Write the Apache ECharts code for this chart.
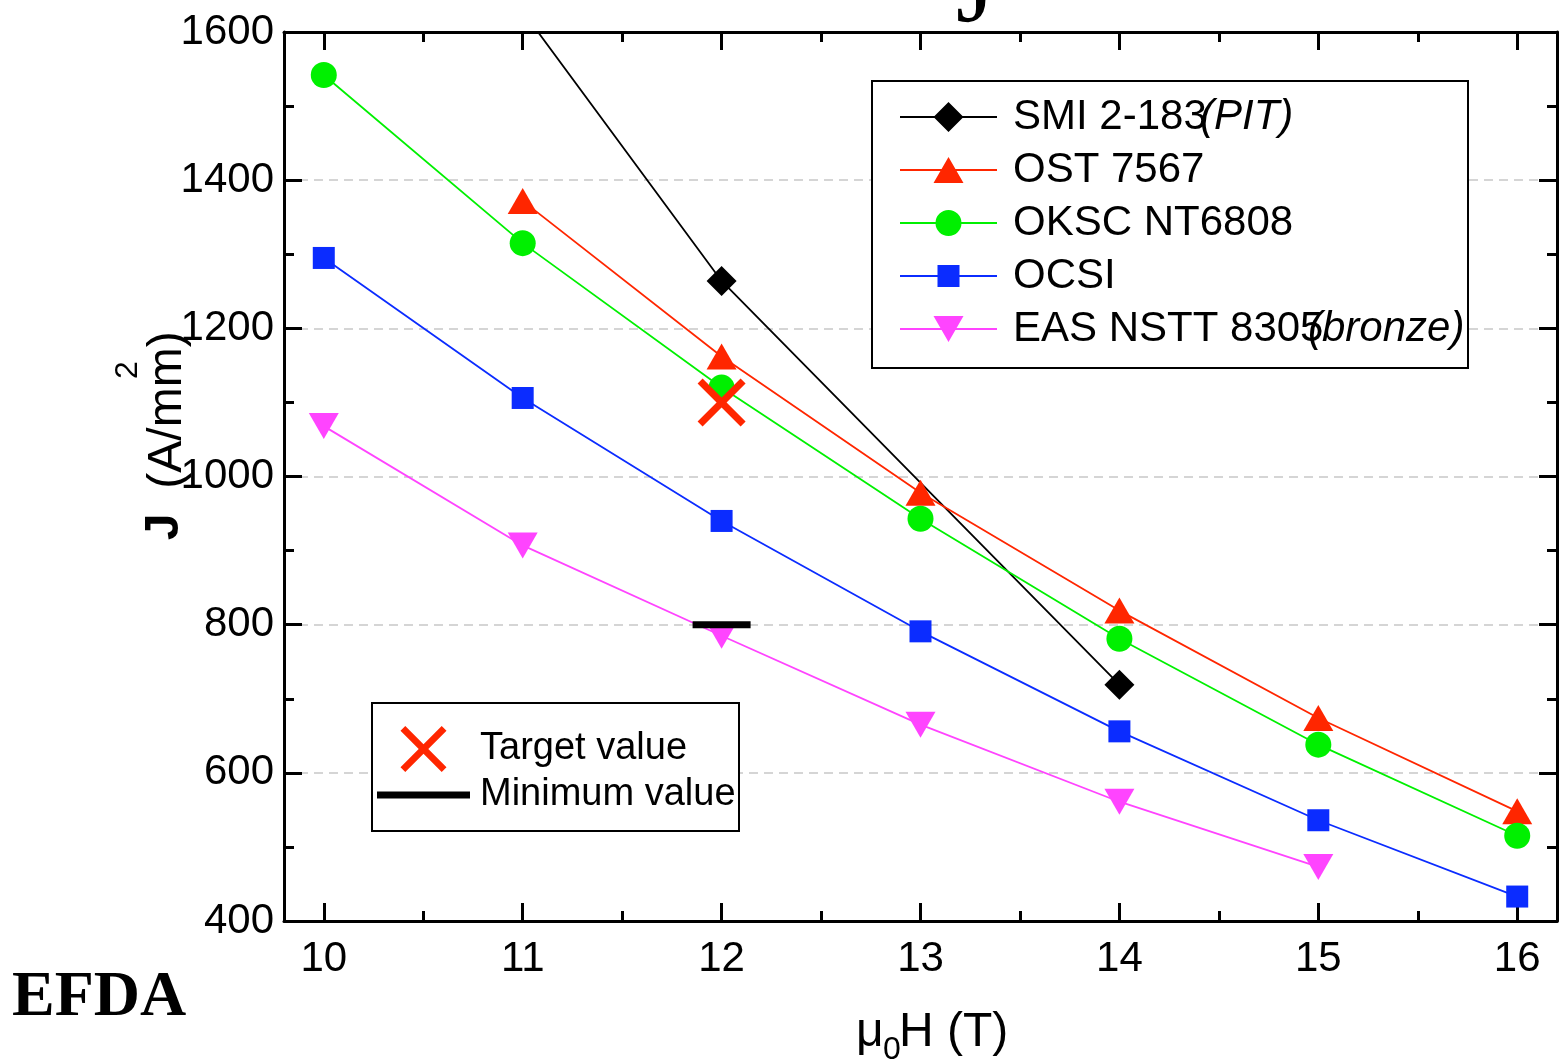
<!DOCTYPE html>
<html><head><meta charset="utf-8">
<script src="https://cdn.jsdelivr.net/npm/echarts@6/dist/echarts.min.js"></script>
<style>html,body{margin:0;padding:0;background:#fff}#c{width:1561px;height:1064px}</style>
</head><body><div id="c"></div>
<script>
// ---- data ----
const fieldT = [10, 11, 12, 13, 14, 15, 16];
const xTickValues = [10, 11, 12, 13, 14, 15, 16];
const xMinorTickValues = [10.5, 11.5, 12.5, 13.5, 14.5, 15.5];
const smiPIT = [null, 1628, 1264, null, 719, null, null];
const ost7567 = [null, 1372, 1162, 978, 819, 674, 548];
const okscNT6808 = [1542, 1315, 1120, 943, 781, 638, 515];
const ocsi = [1295, 1106, 940, 791, 656, 536, 433];
const easBronze = [1068, 907, 785, 665, 561, 473, null];
const targetPoint = [12, 1100];
const minimumPoint = [12, 800];
const seriesNames = ['SMI 2-183(PIT)', 'OST 7567', 'OKSC NT6808', 'OCSI', 'EAS NSTT 8305(bronze)'];
const refNames = ['Target value', 'Minimum value'];

// ---- styling ----
const FF = '"Liberation Sans", Arial, sans-serif';
const colors = ['#000000', '#ff2600', '#00f000', '#0b2cff', '#ff44ff'];
const symbols = ['diamond', 'triangle', 'circle', 'rect', 'path://M0,0L30,0L15,26Z'];
const symbolSizes = [30, [30, 26], 26, 22, [30, 26]];
const LINE = 'M0,14.1L97,14.1L97,15.9L0,15.9Z ';
const legendIcons = [
  'path://' + LINE + 'M48.5,0L63.5,15L48.5,30L33.5,15Z',
  'path://' + LINE + 'M48.5,2L63.5,28L33.5,28Z',
  'path://' + LINE + 'M35.5,15A13,13 0 1,1 61.5,15A13,13 0 1,1 35.5,15Z',
  'path://' + LINE + 'M37.5,4L59.5,4L59.5,26L37.5,26Z',
  'path://' + LINE + 'M33.5,2L63.5,2L48.5,28Z'
];
// width of the upright part before the (overlapping) italic part, per legend entry
const nameBoxWidths = [187, null, null, null, 295];
const X_PATH = 'path://M0,5L5,0L24,19L43,0L48,5L29,24L48,43L43,48L24,29L5,48L0,43L19,24Z';
const BAR_PATH = 'path://M0,0L93,0L93,7L0,7Z';

function pairs(vals) {
  return fieldT.map((x, i) => vals[i] == null ? null : [x, vals[i]]).filter(Boolean);
}
const allVals = [smiPIT, ost7567, okscNT6808, ocsi, easBronze];

const axisLine = {show: true, onZero: false, lineStyle: {color: '#000', width: 3}};
const tickLS = {color: '#000', width: 3};
function xAx(pos, vals, len, labels) {
  return {
    type: 'value', position: pos, min: 9.8, max: 16.2,
    axisLine: labels !== null ? axisLine : {show: false},
    axisTick: {show: true, inside: true, length: len, lineStyle: tickLS, customValues: vals},
    axisLabel: labels ? {show: true, customValues: vals, fontSize: 42, color: '#000', fontFamily: FF, margin: 17,
      formatter: v => String(v)} : {show: false},
    splitLine: {show: false}
  };
}

const series = allVals.map((v, i) => ({
  name: seriesNames[i], type: 'line', data: pairs(v),
  symbol: symbols[i], symbolSize: symbolSizes[i], showAllSymbol: true,
  lineStyle: {color: colors[i], width: 1.8}, itemStyle: {color: colors[i], opacity: 1},
  emphasis: {disabled: true}, clip: true, z: 2
}));
series.push({name: refNames[0], type: 'scatter', data: [targetPoint], symbol: X_PATH, symbolSize: 48,
  itemStyle: {color: '#ff2600', opacity: 1}, emphasis: {disabled: true}, z: 3});
series.push({name: refNames[1], type: 'scatter', data: [minimumPoint], symbol: 'rect', symbolSize: [58, 7],
  itemStyle: {color: '#000', opacity: 1}, emphasis: {disabled: true}, z: 3});

const rich1 = {
  n: {fontSize: 42, color: '#000', fontFamily: FF, padding: [0, 0, 0, 11]},
  i: {fontSize: 42, color: '#000', fontFamily: FF, fontStyle: 'italic'}
};
nameBoxWidths.forEach((w, k) => {
  if (w != null) rich1['w' + k] = {fontSize: 42, color: '#000', fontFamily: FF, padding: [0, 0, 0, 11], width: w};
});

const chart = echarts.init(document.getElementById('c'));
chart.setOption({
  animation: false,
  backgroundColor: '#fff',
  grid: {left: 284, top: 32, width: 1273, height: 889, containLabel: false},
  xAxis: [
    xAx('bottom', xTickValues, 18, true),
    xAx('bottom', xMinorTickValues, 10, null),
    xAx('top', xTickValues, 18, false),
    xAx('top', xMinorTickValues, 10, null)
  ],
  yAxis: [
    {type: 'value', position: 'left', min: 400, max: 1600, interval: 200,
      axisLine: axisLine,
      axisTick: {show: true, inside: true, length: 18, lineStyle: tickLS},
      minorTick: {show: true, splitNumber: 2, length: 10, lineStyle: tickLS},
      axisLabel: {fontSize: 42, color: '#000', fontFamily: FF, margin: 10, formatter: v => String(v)},
      splitLine: {show: true, lineStyle: {color: '#c8c8c8', width: 1.5, type: [9, 6]}}},
    {type: 'value', position: 'right', min: 400, max: 1600, interval: 200,
      axisLine: axisLine,
      axisTick: {show: true, inside: true, length: 18, lineStyle: tickLS},
      minorTick: {show: true, splitNumber: 2, length: 10, lineStyle: tickLS},
      axisLabel: {show: false}, splitLine: {show: false}}
  ],
  legend: [
    {orient: 'vertical', left: 900, top: 96, padding: 0, itemWidth: 97, itemHeight: 30, itemGap: 11,
      selectedMode: false, z: 5,
      data: seriesNames.map((n, i) => ({name: n, icon: legendIcons[i]})),
      formatter: function (name) {
        const idx = seriesNames.indexOf(name);
        const k = name.indexOf('(');
        if (k > 0) {
          const key = nameBoxWidths[idx] != null ? 'w' + idx : 'n';
          return '{' + key + '|' + name.slice(0, k) + '}{i|' + name.slice(k) + '}';
        }
        return '{n|' + name + '}';
      },
      textStyle: {fontSize: 42, color: '#000', fontFamily: FF, rich: rich1}},
    {orient: 'vertical', left: 377, top: 726, padding: 0, itemWidth: 93, itemHeight: 46, itemGap: 4,
      selectedMode: false, z: 5,
      data: [{name: refNames[0], icon: X_PATH}, {name: refNames[1], icon: BAR_PATH}],
      formatter: function (name) { return '{n|' + name + '}'; },
      textStyle: {fontSize: 38, color: '#000', fontFamily: FF,
        rich: {n: {fontSize: 38, color: '#000', fontFamily: FF, padding: [0, 0, 0, 5]}}}}
  ],
  graphic: [
    {type: 'rect', z: 3, shape: {x: 872, y: 81, width: 596, height: 287}, style: {fill: '#fff', stroke: '#000', lineWidth: 2}},
    {type: 'rect', z: 3, shape: {x: 372, y: 703, width: 367, height: 128}, style: {fill: '#fff', stroke: '#000', lineWidth: 2}},
    {type: 'text', x: 165, y: 527, rotation: Math.PI / 2, style: {text: 'J', font: 'bold 48px "Liberation Sans"', fill: '#000', align: 'center', verticalAlign: 'middle'}},
    {type: 'text', x: 168, y: 410, rotation: Math.PI / 2, style: {text: '(A/mm)', font: '48px "Liberation Sans"', fill: '#000', align: 'center', verticalAlign: 'middle'}},
    {type: 'text', x: 128, y: 370, rotation: Math.PI / 2, style: {text: '2', font: '32px "Liberation Sans"', fill: '#000', align: 'center', verticalAlign: 'middle'}},
    {type: 'text', x: 856, y: 1033, style: {text: 'μ', font: '48px "Liberation Sans"', fill: '#000', align: 'left', verticalAlign: 'middle'}},
    {type: 'text', x: 883, y: 1050, style: {text: '0', font: '32px "Liberation Sans"', fill: '#000', align: 'left', verticalAlign: 'middle'}},
    {type: 'text', x: 899, y: 1033, style: {text: 'H (T)', font: '48px "Liberation Sans"', fill: '#000', align: 'left', verticalAlign: 'middle'}},
    {type: 'text', x: 12, y: 998, style: {text: 'EFDA', font: 'bold 64px "Liberation Serif"', fill: '#000', align: 'left', verticalAlign: 'middle'}},
    {type: 'text', x: 956, y: 45, style: {text: 'J', font: '100px "Liberation Serif"', fill: '#000', align: 'left', verticalAlign: 'bottom'}}
  ],
  series: series
});
</script></body></html>
